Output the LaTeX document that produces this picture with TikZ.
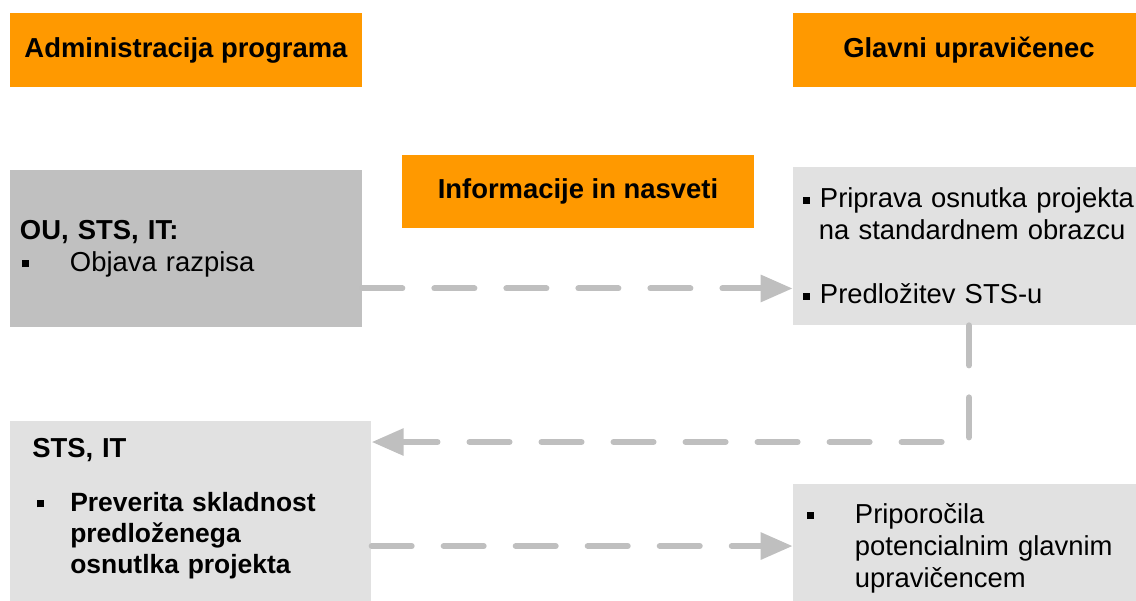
\documentclass[tikz,border=0pt]{standalone}
\usepackage{fontspec}
\setmainfont{Liberation Sans}
\usetikzlibrary{shapes,arrows.meta,positioning}
\definecolor{headorange}{HTML}{FF9900}
\definecolor{darkgrey}{HTML}{C0C0C0}
\definecolor{lightgrey}{HTML}{E1E1E1}
\definecolor{arrowgrey}{HTML}{BFBFBF}
\newcommand{\diafont}{\fontsize{19.5}{22.8}\selectfont}
\newcommand{\bulsq}{\rule[0.1cm]{0.175cm}{0.175cm}}
\tikzstyle{header}   = [rectangle, fill=headorange, text centered, font=\diafont\bfseries, minimum width=8.8cm, minimum height=1.825cm, inner sep=0pt]
\tikzstyle{darkbox}  = [rectangle, fill=darkgrey, align=left, inner ysep=0pt]
\tikzstyle{lightbox} = [rectangle, fill=lightgrey, align=left, inner ysep=0pt]
\tikzstyle{flow} = [draw, arrowgrey, line width=0.15cm, line cap=round, dash pattern=on 1cm off 0.8cm]

\begin{document}
\begin{tikzpicture}[x=0.025cm, y=-0.025cm, node distance=4.96cm, font=\diafont]
            \useasboundingbox (0,0) rectangle (1136,600);
            \clip (0,0) rectangle (1136,600);

            \node[header] (admin)  at (186,50) {Administracija programa};
            \node[header] (glavni) at (969,50) {Glavni upravičenec};
            \node[header] (nasveti) at (578,191.5) {Informacije in nasveti};

            \node[darkbox, below of=admin, inner xsep=0.25cm, text width=8.3cm, minimum height=3.925cm] (objava)
                {\textbf{OU, STS, IT:}\\ \hspace*{0.05cm}\bulsq\hspace{1.025cm}Objava razpisa};
            \node[lightbox, below of=glavni, node distance=4.9cm, inner xsep=0.25cm, text width=8.3cm, minimum height=3.95cm] (priprava)
                {\bulsq\hspace{0.25cm}Priprava osnutka projekta\\ \hspace*{0.4cm}na standardnem obrazcu\\[0.8cm] \bulsq\hspace{0.25cm}Predložitev STS-u};
            % spodnji rob sega cez sliko
            \node[lightbox, anchor=north west, inner xsep=0.55cm, inner ysep=0.425cm, text width=7.925cm, font=\fontsize{18.8}{22}\selectfont\bfseries] (preverba) at (10,421)
                {{\diafont STS, IT}\\[0.575cm] \hspace*{0.125cm}\bulsq\hspace{0.65cm}Preverita skladnost\\ \hspace*{0.95cm}predloženega\\ \hspace*{0.95cm}osnutlka projekta\rule[-1cm]{0pt}{1cm}};
            \node[lightbox, inner xsep=0.35cm, text width=8.1cm, minimum height=3.2cm] (priporocila) at (969,548)
                {\bulsq\hspace{1.025cm}Priporočila\\ \hspace*{1.2cm}potencialnim glavnim\\ \hspace*{1.2cm}upravičencem};

            \coordinate (razpis) at ([yshift=-1cm]objava.east);
            \coordinate (vrnitev) at ([yshift=-0.525cm]preverba.north east);
            \coordinate (priporocilo) at ([yshift=-3.125cm]preverba.north east);

            \path [flow, -{Triangle[length=0.8cm,width=0.65cm]}] (razpis) -- (razpis -| priprava.west);
            \path [flow, -{Triangle[length=0.8cm,width=0.65cm]}] (priprava.south) |- (vrnitev);
            \path [flow, -{Triangle[length=0.8cm,width=0.65cm]}] (priporocilo) -- (priporocilo -| priporocila.west);
\end{tikzpicture}
\end{document}
